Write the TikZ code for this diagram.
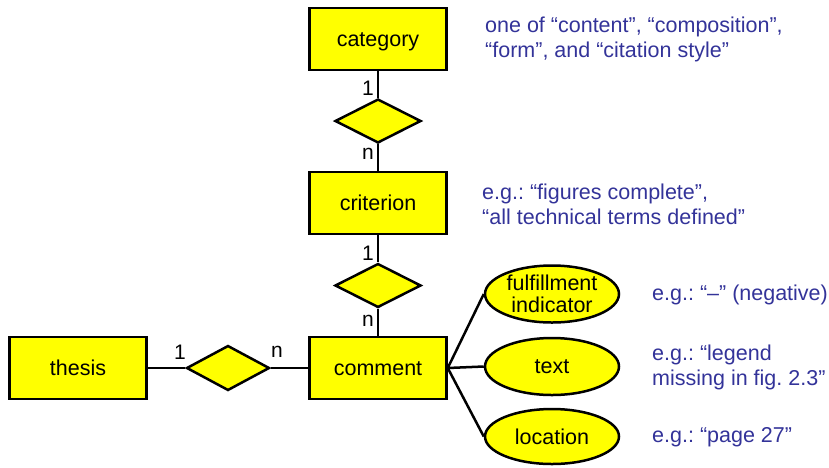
\documentclass[tikz,border=0pt]{standalone}
\usepackage{fontspec}
\setmainfont{Liberation Sans}
\usetikzlibrary{shapes.geometric}
\definecolor{erfill}{RGB}{255,255,0}
\definecolor{notecol}{RGB}{51,51,153}
\tikzset{
  entity/.style={draw=black, line width=2.5pt, fill=erfill, minimum width=137pt, minimum height=62pt, inner sep=0pt, text height=17pt, text depth=3pt, font=\fontsize{21.5}{25}\selectfont},
  relation/.style={draw=black, line width=2.5pt, fill=erfill, diamond, minimum width=86pt, minimum height=44pt, inner sep=0pt},
  attr/.style={draw=black, line width=2.5pt, fill=erfill, ellipse, minimum width=134pt, minimum height=57pt, inner sep=0pt, align=center, font=\fontsize{21.5}{22}\selectfont},
  card/.style={inner sep=0pt, font=\fontsize{21}{25}\selectfont},
  note/.style={inner sep=0pt, anchor=west, align=left, text=notecol, font=\fontsize{21.5}{25}\selectfont},
  conn/.style={draw=black, line width=2.5pt}
}
\frenchspacing
\begin{document}
\begin{tikzpicture}[x=1pt, y=-1pt]
\useasboundingbox (0,0) rectangle (829,467);
\node[entity] (category) at (378,39) {category};
\node[relation] (r1) at (378,121) {};
\node[entity] (criterion) at (378,203) {criterion};
\node[relation] (r2) at (378,285.5) {};
\node[entity] (comment) at (378,368) {comment};
\node[entity] (thesis) at (78,368) {thesis};
\node[relation, minimum width=83pt, minimum height=45pt] (r3) at (228,368) {};
\node[attr] (fulfil) at (552,294) {fulfillment\\indicator};
\node[attr] (text) at (552,366.5) {text};
\node[attr, minimum height=55pt] (loc) at (552,436.5) {location};
\draw[conn] (category.south) -- (r1.north);
\draw[conn] (r1.south) -- (criterion.north);
\draw[conn] (criterion.south) -- (r2.north);
\draw[conn] (r2.south) -- (comment.north);
\draw[conn] (thesis.east) -- (r3.west);
\draw[conn] (r3.east) -- (comment.west);
\draw[conn] (comment.east) -- (fulfil.west);
\draw[conn] (comment.east) -- (text.west);
\draw[conn] (comment.east) -- (loc.west);
% cardinalities
\node[card] (c1a) at (368,88) {1};
\node[card] (c1b) at (368,154) {n};
\node[card] (c2a) at (368,253) {1};
\node[card] (c2b) at (368,321) {n};
\node[card] (c3a) at (180,352) {1};
\node[card] (c3b) at (277,352) {n};
% notes
\node[note] (n1) at (485,39.5) {one of “content”, “composition”,\\“form”, and “citation style”};
\node[note] (n2) at (482,204.5) {e.g.: “figures complete”,\\“all technical terms defined”};
\node[note] (n3) at (652,295) {e.g.: “–” (negative)};
\node[note] (n4) at (652,367.5) {e.g.: “legend\\missing in fig. 2.3”};
\node[note] (n5) at (652,437) {e.g.: “page 27”};
\end{tikzpicture}
\end{document}
